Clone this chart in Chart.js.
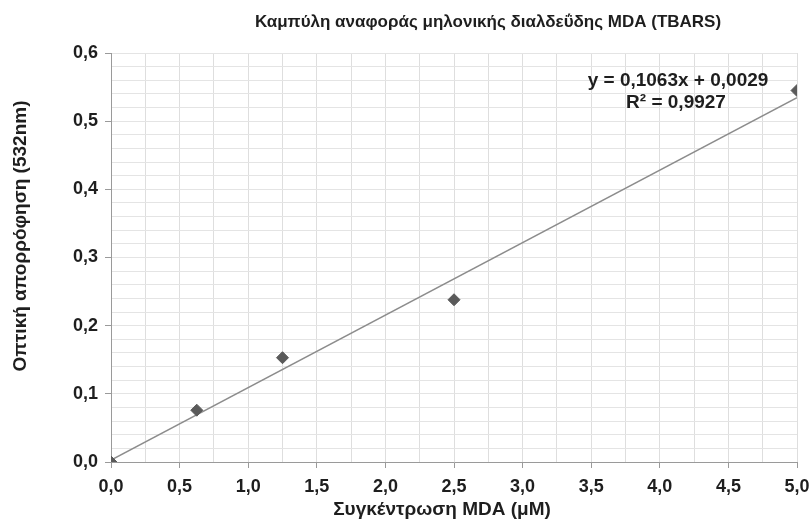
<!DOCTYPE html>
<html>
<head>
<meta charset="utf-8">
<script src="https://cdn.jsdelivr.net/npm/chart.js@4/dist/chart.umd.min.js"></script>
<style>
  html, body { margin: 0; padding: 0; background: #fff; }
  #wrap { width: 812px; height: 524px; }
</style>
</head>
<body>
<div id="wrap"><canvas id="c" width="812" height="524"></canvas></div>
<script>
// Standard curve for MDA (TBARS assay)
const chartTitle = 'Καμπύλη αναφοράς μηλονικής διαλδεΰδης MDA (TBARS)';
const xAxisTitle = 'Συγκέντρωση MDA (μM)';
const yAxisTitle = 'Οπτική απορρόφηση (532nm)';

const concentrations = [0, 0.625, 1.25, 2.5, 5];      // μM
const absorbances    = [0, 0.076, 0.153, 0.238, 0.545]; // A532

// Linear fit reported on the chart
const fitSlope = 0.1063;
const fitIntercept = 0.0029;
const fitR2 = 0.9927;
const fitRange = [0, 5];

const xMin = 0, xMax = 5, xGridStep = 0.25, xLabelStep = 0.5;
const yMin = 0, yMax = 0.6, yGridStep = 0.02, yLabelStep = 0.1;

const FONT = '"Liberation Sans", Arial, sans-serif';
const TEXT = '#1e1e1e';

const comma = (v, d) => v.toFixed(d).replace('.', ',');
const onStep = (v, step) => Math.abs(v / step - Math.round(v / step)) < 1e-6;

const points = concentrations.map((x, i) => ({ x, y: absorbances[i] }));
const fitLine = fitRange.map(x => ({ x, y: fitSlope * x + fitIntercept }));

const equationText = 'y = ' + comma(fitSlope, 4) + 'x + ' + comma(fitIntercept, 4);
const r2Text = 'R² = ' + comma(fitR2, 4);

const textPlugin = {
  id: 'texts',
  afterDraw(chart) {
    const ctx = chart.ctx;
    ctx.save();
    ctx.fillStyle = TEXT;
    ctx.textAlign = 'center';
    ctx.textBaseline = 'middle';

    ctx.font = 'bold 17px ' + FONT;
    ctx.fillText(chartTitle, 488, 22);

    ctx.font = 'bold 19px ' + FONT;
    ctx.fillText(xAxisTitle, 442, 510);

    ctx.save();
    ctx.translate(21, 236);
    ctx.rotate(-Math.PI / 2);
    ctx.fillText(yAxisTitle, 0, 0);
    ctx.restore();

    ctx.font = 'bold 19px ' + FONT;
    ctx.fillText(equationText, 678, 81);
    ctx.fillText(r2Text, 676, 103);
    ctx.restore();
  }
};

new Chart(document.getElementById('c'), {
  type: 'scatter',
  data: {
    datasets: [
      {
        label: 'MDA',
        data: points,
        pointStyle: 'rectRot',
        pointRadius: 6,
        backgroundColor: '#5a5a5a',
        borderColor: '#5a5a5a',
        borderWidth: 1,
        order: 0
      },
      {
        label: 'Γραμμική',
        type: 'line',
        data: fitLine,
        borderColor: '#8c8c8c',
        borderWidth: 1.5,
        pointRadius: 0,
        fill: false,
        order: 1
      }
    ]
  },
  plugins: [textPlugin],
  options: {
    responsive: false,
    animation: false,
    devicePixelRatio: 1,
    layout: { padding: { top: 53, right: 15, left: 0, bottom: 0 } },
    plugins: {
      legend: { display: false },
      title: { display: false },
      tooltip: { enabled: false }
    },
    scales: {
      x: {
        type: 'linear',
        min: xMin,
        max: xMax,
        afterFit(s) { s.height = 62; s.paddingLeft = 0; s.paddingRight = 0; },
        border: { color: '#9a9a9a', width: 1 },
        grid: {
          color: '#dedede',
          lineWidth: 1,
          tickLength: 6,
          tickColor: c => onStep(c.tick.value, xLabelStep) ? '#9a9a9a' : 'rgba(0,0,0,0)'
        },
        ticks: {
          stepSize: xGridStep,
          maxTicksLimit: 100,
          autoSkip: false,
          maxRotation: 0,
          padding: 8,
          color: TEXT,
          font: { family: FONT, size: 18, weight: 'bold' },
          callback: v => onStep(v, xLabelStep) ? comma(v, 1) : ''
        }
      },
      y: {
        type: 'linear',
        min: yMin,
        max: yMax,
        afterFit(s) { s.width = 111; s.paddingTop = 0; s.paddingBottom = 0; },
        border: { color: '#9a9a9a', width: 1 },
        grid: {
          color: '#e4e4e4',
          lineWidth: 1,
          tickLength: 6,
          tickColor: c => onStep(c.tick.value, yLabelStep) ? '#9a9a9a' : 'rgba(0,0,0,0)'
        },
        ticks: {
          stepSize: yGridStep,
          maxTicksLimit: 100,
          autoSkip: false,
          padding: 7,
          color: TEXT,
          font: { family: FONT, size: 18, weight: 'bold' },
          callback: v => onStep(v, yLabelStep) ? comma(v, 1) : ''
        }
      }
    }
  }
});
</script>
</body>
</html>
